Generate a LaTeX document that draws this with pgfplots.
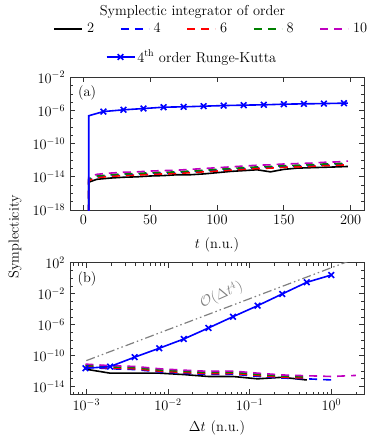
\documentclass[border=0pt]{standalone}
\usepackage{pgfplots}
\pgfplotsset{compat=1.18}
\usepackage{pgfplotstable}

\definecolor{mplblue}{rgb}{0,0,1}
\definecolor{mplred}{rgb}{1,0,0}
\definecolor{mplgreen}{rgb}{0,0.5,0}
\definecolor{mplmag}{rgb}{0.75,0,0.75}

% panel (a): symplecticity against time, columns = integrator order
\pgfplotstableread{
t    k2       k4       k6       k8       k10
4    1e-20    1e-20    1e-20    1e-20    1e-20
4    2.24e-15 4.47e-15 3.55e-15 5.62e-15 8.91e-15
10   5.01e-15 1.0e-14  7.94e-15 1.26e-14 2.0e-14
20   7.08e-15 1.41e-14 1.12e-14 1.78e-14 2.82e-14
30   8.91e-15 1.78e-14 1.41e-14 2.24e-14 3.55e-14
40   1.0e-14  2.0e-14  1.58e-14 2.51e-14 3.98e-14
50   1.26e-14 2.51e-14 2.0e-14  3.16e-14 5.01e-14
60   1.41e-14 2.82e-14 2.24e-14 3.55e-14 5.62e-14
70   1.78e-14 3.16e-14 2.51e-14 3.98e-14 6.31e-14
80   1.78e-14 3.98e-14 3.16e-14 5.01e-14 7.94e-14
90   2.24e-14 5.01e-14 3.98e-14 6.31e-14 1.0e-13
100  3.16e-14 6.31e-14 5.01e-14 7.94e-14 1.26e-13
110  4.47e-14 7.94e-14 6.31e-14 1.0e-13  1.58e-13
120  5.62e-14 1.0e-13  7.94e-14 1.26e-13 2.0e-13
130  7.08e-14 1.26e-13 1.0e-13  1.58e-13 2.51e-13
140  3.98e-14 1.41e-13 1.12e-13 1.78e-13 2.82e-13
150  7.94e-14 1.78e-13 1.41e-13 2.24e-13 3.55e-13
160  1.12e-13 2.0e-13  1.58e-13 2.51e-13 3.98e-13
170  1.26e-13 2.24e-13 1.78e-13 2.82e-13 4.47e-13
180  1.41e-13 2.82e-13 2.24e-13 3.55e-13 5.62e-13
190  1.58e-13 3.16e-13 2.51e-13 3.98e-13 6.31e-13
198  1.78e-13 3.55e-13 2.82e-13 4.47e-13 7.94e-13
}\tabA

\pgfplotsset{
  mplaxis/.style={
    scale only axis, width=294pt,
    axis line style={black!80, line width=0.8pt},
    every tick/.style={black!80, line width=0.7pt},
    major tick length=5pt, minor tick length=2.8pt,
    tick align=inside,
  },
  dashedline/.style={line width=1.6pt, dash pattern=on 8pt off 6pt},
}

\begin{document}
\fontsize{14.4}{17}\selectfont
\begin{tikzpicture}
\path[use as bounding box] (0,0) rectangle (374pt,-436pt);

\node at (192.5pt,-12pt) {Symplectic integrator of order};
\node[rotate=90] at (15pt,-237pt) {Symplecticity};

% ---------- (a) ----------
\begin{axis}[mplaxis,
  at={(70pt,-210pt)}, anchor=south west, height=132.7pt,
  xmin=-10, xmax=210, xtick={0,50,100,150,200},
  ymode=log, ymin=1e-18, ymax=1e-2,
  ytick={1e-18,1e-14,1e-10,1e-6,1e-2},
  minor ytick={1e-17,1e-16,1e-15,1e-13,1e-12,1e-11,1e-9,1e-8,1e-7,1e-5,1e-4,1e-3},
  xlabel={$t$ (n.u.)}, xlabel style={yshift=-4pt},
  legend columns=5,
  legend image code/.code={\draw[#1] (0pt,0pt) -- (28pt,0pt);},
  legend style={at={(0.481,1.364)}, anchor=center, draw=none, fill=none,
    /tikz/every odd column/.append style={column sep=2pt},
    /tikz/every even column/.append style={column sep=23.8pt}},
]
\addplot[black, line width=1.6pt] table[x=t, y=k2] {\tabA};
\addlegendentry{2}
\addplot[mplblue, dashedline] table[x=t, y=k4] {\tabA};
\addlegendentry{4}
\addplot[mplred, dashedline] table[x=t, y=k6] {\tabA};
\addlegendentry{6}
\addplot[mplgreen, dashedline] table[x=t, y=k8] {\tabA};
\addlegendentry{8}
\addplot[mplmag, dashedline] table[x=t, y=k10] {\tabA};
\addlegendentry{10}
\addplot[mplblue, line width=1.6pt, mark=x, mark size=4pt, forget plot,
  mark indices={2,3,4,5,6,7,8,9,10,11,12,13,14}] coordinates {
  (4,1e-20) (4,2.3e-7) (15,7.4e-7) (30,1.2e-6) (45,1.7e-6) (60,2.5e-6)
  (75,2.75e-6) (90,3.3e-6) (105,3.9e-6) (120,4.4e-6) (135,4.8e-6)
  (150,5.75e-6) (165,6.3e-6) (180,6.8e-6) (195,7.6e-6) (198,7.7e-6)
};
\node at (rel axis cs:0.058,0.88) {(a)};
\end{axis}

% ---------- (b) ----------
\begin{axis}[mplaxis,
  at={(70pt,-394.3pt)}, anchor=south west, height=131.6pt,
  xmode=log, xmin=6.31e-4, xmax=2.51,
  xtick={1e-3,1e-2,1e-1,1},
  minor xtick={7e-4,8e-4,9e-4,2e-3,3e-3,4e-3,5e-3,6e-3,7e-3,8e-3,9e-3,
    2e-2,3e-2,4e-2,5e-2,6e-2,7e-2,8e-2,9e-2,0.2,0.3,0.4,0.5,0.6,0.7,0.8,0.9,2},
  ymode=log, ymin=1e-15, ymax=1e2,
  ytick={1e-14,1e-10,1e-6,1e-2,1e2},
  minor ytick={1e-13,1e-12,1e-11,1e-9,1e-8,1e-7,1e-5,1e-4,1e-3,1e-1,1,1e1},
  xlabel={$\Delta t$ (n.u.)}, xlabel style={yshift=0pt},
  legend image code/.code={\draw[mark repeat=2, mark phase=2, #1]
    plot coordinates {(0pt,0pt) (14pt,0pt) (28pt,0pt)};},
  legend style={at={(0.415,2.563)}, anchor=center, draw=none, fill=none},
]
\addplot[black, line width=1.6pt, forget plot] coordinates {
  (0.0009765625,1.78e-12) (0.001953125,5.4e-13) (0.00390625,5.4e-13)
  (0.0078125,5.4e-13) (0.015625,3.55e-13) (0.03125,2.0e-13) (0.0625,2.0e-13)
  (0.125,1.0e-13) (0.25,1.58e-13) (0.5,7.1e-14)
};
\addplot[mplblue, dashedline, forget plot] coordinates {
  (0.0009765625,3.16e-12) (0.001953125,2.0e-12) (0.00390625,1.58e-12)
  (0.0078125,7.9e-13) (0.015625,5.2e-13) (0.03125,3.7e-13) (0.0625,4.0e-13)
  (0.125,2.1e-13) (0.25,1.26e-13) (0.5,1.0e-13) (1,7.2e-14)
};
\addplot[mplred, dashedline, forget plot] coordinates {
  (0.0009765625,3.98e-12) (0.001953125,2.51e-12) (0.00390625,2.0e-12)
  (0.0078125,1.0e-12) (0.015625,6.6e-13) (0.03125,4.7e-13) (0.0625,5.0e-13)
  (0.125,2.7e-13) (0.25,1.58e-13) (0.5,1.26e-13)
};
\addplot[mplgreen, dashedline, forget plot] coordinates {
  (0.0009765625,5.6e-12) (0.001953125,3.55e-12) (0.00390625,2.8e-12)
  (0.0078125,1.41e-12) (0.015625,9.3e-13) (0.03125,6.6e-13) (0.0625,7.1e-13)
  (0.125,3.8e-13) (0.25,2.24e-13) (0.5,1.78e-13)
};
\addplot[mplmag, dashedline, forget plot] coordinates {
  (0.0009765625,7.94e-12) (0.001953125,5.01e-12) (0.00390625,3.98e-12)
  (0.0078125,2.0e-12) (0.015625,1.32e-12) (0.03125,9.3e-13) (0.0625,1.0e-12)
  (0.125,5.4e-13) (0.25,3.16e-13) (0.5,2.51e-13) (1,2.0e-13) (2,2.75e-13)
};
\addplot[gray, line width=1.2pt, forget plot,
  dash pattern=on 9pt off 3pt on 1.5pt off 3pt on 1.5pt off 3pt] coordinates {
  (0.001,2.24e-11) (10,2.24e5)
};
\addplot[mplblue, line width=1.6pt, mark=x, mark size=4pt] coordinates {
  (0.0009765625,2.3e-12) (0.001953125,3.8e-12) (0.00390625,6.3e-11)
  (0.0078125,8.9e-10) (0.015625,1.4e-8) (0.03125,3.7e-7) (0.0625,1.07e-5)
  (0.125,2.8e-4) (0.25,9.1e-3) (0.5,0.295) (1,2.57)
};
\addlegendentry{$4^{\mathrm{th}}$ order Runge-Kutta}
\node[gray, rotate=24] at (axis cs:0.045,7e-3) {$\mathcal{O}(\Delta t^4)$};
\node at (rel axis cs:0.058,0.876) {(b)};
\end{axis}
\end{tikzpicture}
\end{document}
